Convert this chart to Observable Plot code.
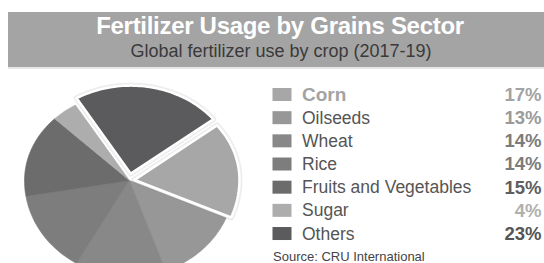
<!DOCTYPE html>
<html><head><meta charset="utf-8">
<script src="https://cdn.jsdelivr.net/npm/d3@7"></script>
<script src="https://cdn.jsdelivr.net/npm/@observablehq/plot@0.6"></script>
<style>
body{margin:0;background:#fff;width:544px;height:263px;overflow:hidden;position:relative;font-family:"Liberation Sans",Arial,Helvetica,sans-serif}
#band{position:absolute;left:8px;top:12px;width:536px;height:55px;background:#a4a4a4;border-bottom:2px solid #e6e6e6}
#title{position:absolute;left:0;width:560px;top:14px;text-align:center;font-weight:bold;font-size:24px;line-height:24px;letter-spacing:-0.3px;color:#fff}
#subtitle{position:absolute;left:0;width:562px;top:41.5px;text-align:center;font-size:18px;line-height:18px;color:#3a3a3a}
#chart{position:absolute;left:0;top:70px}
g[aria-label="labels"] text{letter-spacing:0.2px}
</style></head>
<body>
<div id="band"></div>
<div id="title"></div>
<div id="subtitle"></div>
<div id="chart"></div>
<script>
const titleText = "Fertilizer Usage by Grains Sector";
const subtitleText = "Global fertilizer use by crop (2017-19)";
const categories = ["Corn", "Oilseeds", "Wheat", "Rice", "Fruits and Vegetables", "Sugar", "Others"];
const shares = [17, 13, 14, 14, 15, 4, 23];
const shareLabels = ["17%", "13%", "14%", "14%", "15%", "4%", "23%"];
const sliceColors = ["#a7a7a7", "#979797", "#888888", "#7d7d7d", "#6c6c6c", "#adadad", "#5b5b5d"];
const valueColors = ["#a3a3a3", "#9a9a9a", "#7c7c7c", "#7c7c7c", "#5e5e5e", "#b0b0b0", "#555555"];
const sourceText = "Source: CRU International";

document.getElementById("title").textContent = titleText;
document.getElementById("subtitle").textContent = subtitleText;

// layout
const W = 544, H = 193;
const cx = 129, cy = 110, rx = 105, ryTop = 88, ryBot = 96, startDeg = 51.8;
const explodeBy = {"Corn": 5, "Others": 7};

const total = d3.sum(shares);
let acc = startDeg;
const slices = categories.map((name, i) => {
  const a0 = acc, a1 = acc + shares[i] / total * 360;
  acc = a1;
  const e = explodeBy[name] || 0;
  const m = (a0 + a1) / 2 * Math.PI / 180;
  const ox = e * Math.sin(m), oy = -e * Math.cos(m);
  const apex = {x: cx + ox, y: cy + oy};
  const pts = [apex];
  const n = Math.ceil((a1 - a0) / 1.5);
  for (let k = 0; k <= n; k++) {
    const a = (a0 + (a1 - a0) * k / n) * Math.PI / 180;
    const s = Math.sin(a), c = Math.cos(a);
    pts.push({x: cx + ox + rx * s, y: cy + oy - (c > 0 ? ryTop : ryBot) * c});
  }
  pts.push(apex);
  return {name, i, pts, exploded: e > 0};
});

const rows = categories.map((c, i) => ({c, i, y: 24.5 + i * 23.17}));

const marks = [];
slices.filter(s => !s.exploded).forEach(s => {
  marks.push(Plot.line(s.pts, {x: "x", y: "y", fill: sliceColors[s.i], stroke: sliceColors[s.i], strokeWidth: 0.6, curve: "linear"}));
});
slices.filter(s => s.exploded).forEach(s => {
  marks.push(Plot.line(s.pts, {x: "x", y: "y", fill: "none", stroke: "#000", strokeOpacity: 0.07, strokeWidth: 6, strokeLinejoin: "round", curve: "linear"}));
  marks.push(Plot.line(s.pts, {x: "x", y: "y", fill: sliceColors[s.i], stroke: "#fff", strokeWidth: 2.5, strokeLinejoin: "round", curve: "linear"}));
});
marks.push(
  Plot.rect(rows, {x1: 272.5, x2: 291.5, y1: d => d.y - 6.5, y2: d => d.y + 6.5, fill: d => sliceColors[d.i]}),
  Plot.text(rows.filter(d => d.i > 0), {x: 301.5, y: "y", text: "c", textAnchor: "start", fontSize: 17.5, fill: "#555", ariaLabel: "labels"}),
  Plot.text(rows.filter(d => d.i === 0), {x: 301.5, y: "y", text: "c", textAnchor: "start", fontSize: 19, fontWeight: "bold", fill: "#a3a3a3"}),
  Plot.text(rows, {x: 541, y: "y", text: d => shareLabels[d.i], textAnchor: "end", fontSize: 18.5, fontWeight: "bold", fill: d => valueColors[d.i]}),
  Plot.text([sourceText], {x: 272.5, y: 186, text: d => d, textAnchor: "start", fontSize: 13, fill: "#444"})
);

const chart = Plot.plot({
  width: W, height: H, margin: 0,
  x: {domain: [0, W], range: [0, W], axis: null},
  y: {domain: [0, H], range: [0, H], axis: null},
  color: {type: "identity"},
  style: {fontFamily: "'Liberation Sans', Arial, Helvetica, sans-serif", background: "transparent", overflow: "visible"},
  marks
});
document.getElementById("chart").appendChild(chart);
</script>
</body></html>
